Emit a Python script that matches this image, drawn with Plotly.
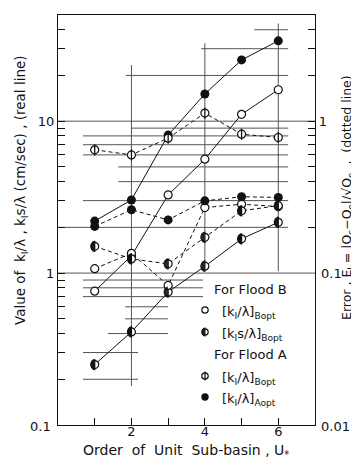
import math
import plotly.graph_objects as go

# ---------------- data ----------------
unit_order = [1, 2, 3, 4, 5, 6]

# real lines (left axis, cm/sec)
kB_value_floodB = [0.76, 1.30, 3.27, 5.62, 11.1, 16.1]     # open circles  [kI/λ]Bopt
ksB_value_floodB = [0.25, 0.41, 0.75, 1.11, 1.68, 2.16]    # half circles  [kI s/λ]Bopt
kA_value_floodA = [2.2, 3.03, 8.1, 15.1, 25.3, 33.8]       # filled circles [kI/λ]Aopt

# dotted lines (right axis, error)
err_kB_floodB = [0.107, 0.135, 0.083, 0.270, 0.284, 0.274]   # open
err_ksB_floodB = [0.150, 0.124, 0.115, 0.172, 0.257, 0.278]  # half
err_kB_floodA = [0.648, 0.600, 0.773, 1.13, 0.821, 0.781]    # barred
err_kA_floodA = [0.203, 0.261, 0.224, 0.299, 0.318, 0.315]   # filled

x_tickvals = [1, 2, 3, 4, 5, 6]
x_ticktext = ["", "2", "", "4", "", "6"]
left_tickvals = [0.2, 0.3, 0.4, 0.5, 0.6, 0.7, 0.8, 0.9, 1, 2, 3, 4, 5, 6, 7, 8, 9, 10, 20, 30, 40]
left_ticktext = ["" if v not in (1, 10) else str(v) for v in left_tickvals]
right_tickvals = [0.2, 0.3, 0.4, 0.5, 0.6, 0.7, 0.8, 0.9, 1, 2, 3, 4]
right_ticktext = ["" if v != 1 else "1" for v in right_tickvals]

# fragments of the printed grid (value, x from, x to)
grid_h_value = [40, 30, 20, 10, 9, 8, 7, 6, 5, 4, 3, 2, 1, 0.9, 0.8, 0.7, 0.6, 0.5, 0.4, 0.3, 0.2]
grid_h_x0 = [5.35, 3.9, 1.85, 0, 2.0, 0.68, 0.68, 0.68, 1.64, 1.64, 0.68, 0, 0, 0.68, 0.68, 0.68, 1.83, 1.83, 1.36, 0.68, 0.68]
grid_h_x1 = [6.27, 6.27, 6.27, 7, 6.27, 6.27, 6.27, 6.27, 6.27, 6.27, 6.27, 6.27, 7, 3.95, 3.95, 3.95, 3.0, 3.0, 3.0, 2.18, 2.18]
grid_v_x = [2, 4, 6]
grid_v_y0 = [0.18, 1.05, 1.03]
grid_v_y1 = [23.4, 32.6, 44]

# legend entries
legend_labels = ["[k<sub>I</sub>/λ]<sub>Bopt</sub>", "[k<sub>I</sub>s/λ]<sub>Bopt</sub>",
                 "[k<sub>I</sub>/λ]<sub>Bopt</sub>", "[k<sub>I</sub>/λ]<sub>Aopt</sub>"]
legend_kinds = ["open", "half", "barred", "filled"]

FONT = "DejaVu Sans"
INK = "#111"

# plot-area pixel geometry
L, R, T, B = 50, 307, 7, 417
X_RANGE = [0, 7]


def px(xp):
    return (xp - L) / (R - L)


def py(yp):
    return (B - yp) / (B - T)


legend_row_y = [302, 324, 368, 389]

fig = go.Figure()
extra_axes = {}


def shifted_axis(base, shift_px):
    """hidden overlay x axis whose range is shifted so markers land shift_px pixels off."""
    key = (base, round(shift_px, 2))
    if key in extra_axes:
        return extra_axes[key]
    n = 4 + len(extra_axes)
    rng = X_RANGE if base == "x" else [0, 1]
    span = rng[1] - rng[0]
    d = shift_px / (R - L) * span
    fig.layout["xaxis%d" % n] = dict(range=[rng[0] - d, rng[1] - d], overlaying="x", visible=False)
    extra_axes[key] = "x%d" % n
    return "x%d" % n


# grid fragments
gx, gy = [], []
for v, a, b in zip(grid_h_value, grid_h_x0, grid_h_x1):
    gx += [a, b, None]
    gy += [v, v, None]
for xv, a, b in zip(grid_v_x, grid_v_y0, grid_v_y1):
    gx += [xv, xv, None]
    gy += [a, b, None]
fig.add_trace(go.Scatter(x=gx, y=gy, mode="lines", line=dict(color="#555", width=1),
                         hoverinfo="skip", showlegend=False))

DASH = "4px,3px"

for ser in (err_kB_floodB, err_ksB_floodB, err_kB_floodA, err_kA_floodA):
    fig.add_trace(go.Scatter(x=unit_order, y=ser, yaxis="y2", mode="lines",
                             line=dict(color=INK, width=1, dash=DASH), showlegend=False))

for ser in (kB_value_floodB, ksB_value_floodB, kA_value_floodA):
    fig.add_trace(go.Scatter(x=unit_order, y=ser, mode="lines",
                             line=dict(color=INK, width=1), showlegend=False))


def add_markers(kind, xs, ys, xaxis="x", yaxis="y", scale=1.0):
    s = 8 * scale
    if kind == "filled":
        fig.add_trace(go.Scatter(x=xs, y=ys, xaxis=xaxis, yaxis=yaxis, mode="markers",
                                 marker=dict(symbol="circle", size=s + 1, color=INK, line=dict(width=0)),
                                 showlegend=False, hoverinfo="skip"))
        return
    fig.add_trace(go.Scatter(x=xs, y=ys, xaxis=xaxis, yaxis=yaxis, mode="markers",
                             marker=dict(symbol="circle", size=s, color="white",
                                         line=dict(color=INK, width=1.2)),
                             showlegend=False, hoverinfo="skip"))
    if kind == "barred":
        fig.add_trace(go.Scatter(x=xs, y=ys, xaxis=xaxis, yaxis=yaxis, mode="markers",
                                 marker=dict(symbol="line-ns-open", size=s, color=INK,
                                             line=dict(color=INK, width=1.3)),
                                 showlegend=False, hoverinfo="skip"))
    if kind == "half":
        r = s / 2
        base = "x" if xaxis == "x" else "x3"
        for off in (0.0, 1.0, 2.0, 3.0):
            off_px = off * scale
            h = 2 * math.sqrt(max(r * r - off_px * off_px, 0))
            ax = xaxis if off == 0 else shifted_axis(base, -off_px)
            fig.add_trace(go.Scatter(x=xs, y=ys, xaxis=ax, yaxis=yaxis, mode="markers",
                                     marker=dict(symbol="line-ns-open", size=h, color=INK,
                                                 line=dict(color=INK, width=1.3 * scale)),
                                     showlegend=False, hoverinfo="skip"))


add_markers("open", unit_order, err_kB_floodB, yaxis="y2")
add_markers("half", unit_order, err_ksB_floodB, yaxis="y2")
add_markers("barred", unit_order, err_kB_floodA, yaxis="y2")
add_markers("filled", unit_order, err_kA_floodA, yaxis="y2")
add_markers("open", unit_order, kB_value_floodB)
add_markers("half", unit_order, ksB_value_floodB)
add_markers("filled", unit_order, kA_value_floodA)

# legend glyphs on a hidden overlay axis in plot-area fractions
for kind, yp in zip(legend_kinds, legend_row_y):
    add_markers(kind, [px(197)], [py(yp)], xaxis="x3", yaxis="y3", scale=0.8)

axis_common = dict(showgrid=False, zeroline=False, showline=True, linecolor=INK, linewidth=1.2,
                   ticks="inside", ticklen=7, tickcolor=INK, tickwidth=1,
                   tickfont=dict(family=FONT, size=13, color=INK))

fig.update_layout(
    width=359, height=459,
    margin=dict(l=L, r=359 - R, t=T, b=459 - B),
    paper_bgcolor="white", plot_bgcolor="white",
    showlegend=False,
    xaxis=dict(range=X_RANGE, tickvals=x_tickvals, ticktext=x_ticktext, mirror=True, **axis_common),
    yaxis=dict(type="log", range=[-1, math.log10(50)], tickvals=left_tickvals,
               ticktext=left_ticktext, **axis_common),
    yaxis2=dict(type="log", range=[-2, math.log10(5)], overlaying="y", side="right",
                tickvals=right_tickvals, ticktext=right_ticktext, **axis_common),
    xaxis3=dict(range=[0, 1], overlaying="x", visible=False),
    yaxis3=dict(range=[0, 1], overlaying="y", visible=False),
)
try:
    fig.layout.xaxis.ticklabelstandoff = -6
except Exception:
    pass

ann = []
tick_font = dict(family=FONT, size=13, color=INK)
ann.append(dict(xref="paper", yref="paper", x=px(45), y=py(418), text="0.1", showarrow=False,
                xanchor="right", yanchor="middle", font=tick_font))
ann.append(dict(xref="paper", yref="paper", x=px(311), y=py(418), text="0.01", showarrow=False,
                xanchor="left", yanchor="middle", font=tick_font))
ann.append(dict(xref="paper", yref="paper", x=px(311), y=py(265), text="0.1", showarrow=False,
                xanchor="left", yanchor="middle", font=tick_font))

ann.append(dict(xref="paper", yref="paper", x=px(13), y=py(182), textangle=-90,
                text="Value of  k<sub>I</sub>/λ , k<sub>I</sub>s/λ (cm/sec) , (real line)",
                showarrow=False, xanchor="center", yanchor="middle",
                font=dict(family=FONT, size=13.5, color=INK)))
ann.append(dict(xref="paper", yref="paper", x=px(340), y=py(190), textangle=-90,
                text="Error , E<sub>I</sub> = |Q<sub>c</sub>−Q<sub>o</sub>|/√Q<sub>o</sub>  ,  (dotted line)",
                showarrow=False, xanchor="center", yanchor="middle",
                font=dict(family=FONT, size=12.5, color=INK)))
ann.append(dict(xref="paper", yref="paper", x=px(178), y=py(443),
                text="Order  of  Unit  Sub-basin , U<sub>*</sub>", showarrow=False,
                xanchor="center", yanchor="middle", font=dict(family=FONT, size=14, color=INK)))

leg_font = dict(family=FONT, size=13, color=INK)
ann.append(dict(xref="paper", yref="paper", x=px(204), y=py(282), text="For Flood B",
                showarrow=False, xanchor="left", yanchor="middle", font=leg_font))
ann.append(dict(xref="paper", yref="paper", x=px(204), y=py(346), text="For Flood A",
                showarrow=False, xanchor="left", yanchor="middle", font=leg_font))
for label, yp in zip(legend_labels, legend_row_y):
    ann.append(dict(xref="paper", yref="paper", x=px(212), y=py(yp + 2), text=label,
                    showarrow=False, xanchor="left", yanchor="middle", font=leg_font))

fig.update_layout(annotations=ann)
fig.write_html("out.html")
